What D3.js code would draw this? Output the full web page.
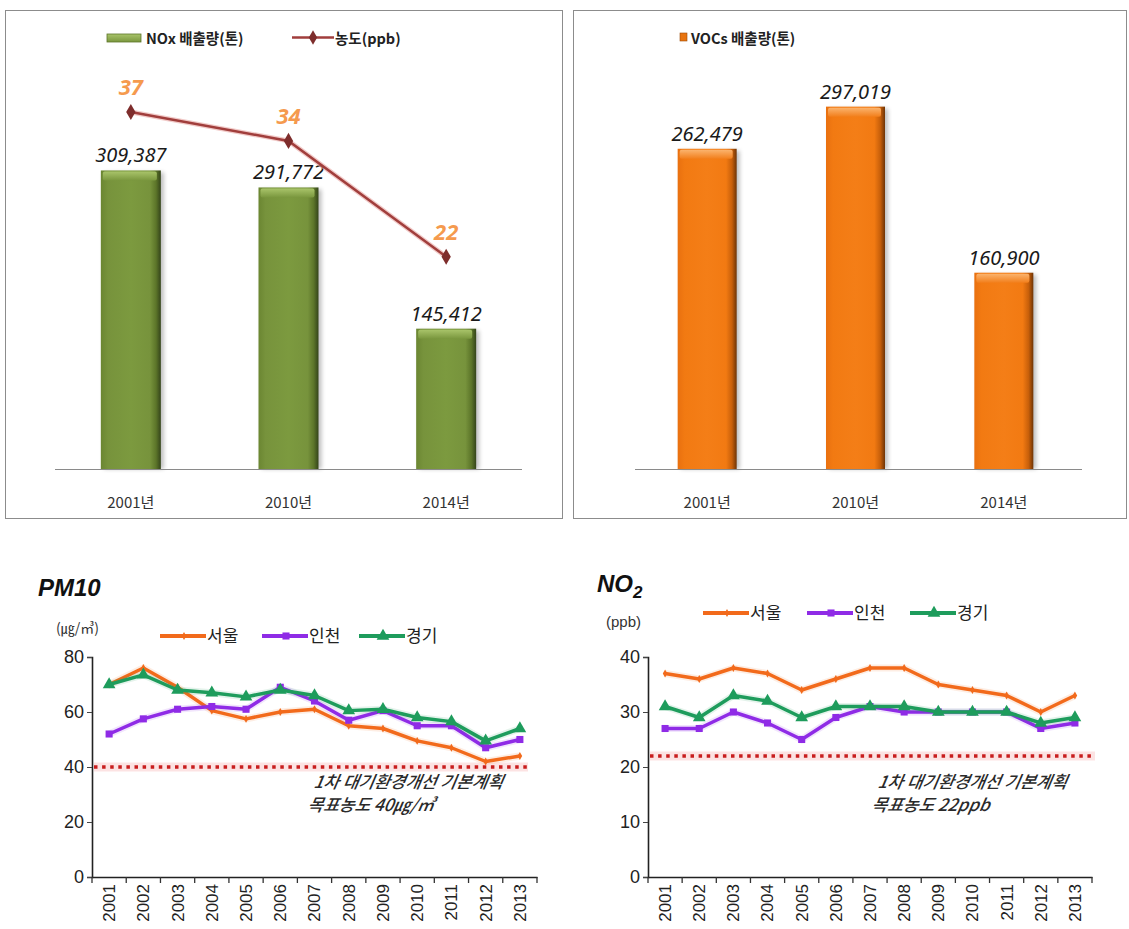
<!DOCTYPE html>
<html>
<head>
<meta charset="utf-8">
<script src="https://cdn.jsdelivr.net/npm/d3@7"></script>
<style>
  html, body { margin: 0; padding: 0; background: #ffffff; }
  svg { display: block; }
</style>
</head>
<body>
<svg id="chart" width="1129" height="929"></svg>
<script>
// ---------------- DATA ----------------
const topYears = ["2001년", "2010년", "2014년"];
const noxEmission = [309387, 291772, 145412];
const no2Concentration = [37, 34, 22];
const vocEmission = [262479, 297019, 160900];

const lineYears = ["2001","2002","2003","2004","2005","2006","2007","2008","2009","2010","2011","2012","2013"];
const regions = ["서울", "인천", "경기"];

const pm10Seoul    = [70, 76, 69, 60.5, 57.5, 60, 61, 55, 54, 49.5, 47, 42, 44];
const pm10Incheon  = [52, 57.5, 61, 62, 61, 69, 64, 57, 60.5, 55, 55, 47, 50];
const pm10Gyeonggi = [70, 73.5, 68, 67, 65.5, 68, 66, 60.5, 61, 58, 56.5, 49.5, 54];
const pm10Ticks = [0, 20, 40, 60, 80];
const pm10Target = 40;

const no2Seoul    = [37, 36, 38, 37, 34, 36, 38, 38, 35, 34, 33, 30, 33];
const no2Incheon  = [27, 27, 30, 28, 25, 29, 31, 30, 30, 30, 30, 27, 28];
const no2Gyeonggi = [31, 29, 33, 32, 29, 31, 31, 31, 30, 30, 30, 28, 29];
const no2Ticks = [0, 10, 20, 30, 40];
const no2Target = 22;

// ---------------- SETUP ----------------
const svg = d3.select("#chart");
const defs = svg.append("defs");
const KR = "'Noto Sans CJK KR', 'Noto Sans', sans-serif";
const ARIAL = "'Liberation Sans', Arial, sans-serif";
const NUM = "'Noto Sans', 'DejaVu Sans', sans-serif";

function barGradients(id, left, mid, light, edge, dark, top1, top2) {
  const g = defs.append("linearGradient").attr("id", id + "Body")
    .attr("x1", 0).attr("x2", 1).attr("y1", 0).attr("y2", 0);
  [[0, left], [0.12, mid], [0.5, light], [0.82, mid], [0.92, edge], [1, dark]]
    .forEach(([o, c]) => g.append("stop").attr("offset", o).attr("stop-color", c));
  const t = defs.append("linearGradient").attr("id", id + "Top")
    .attr("x1", 0).attr("x2", 0).attr("y1", 0).attr("y2", 1);
  [[0, top1], [1, top2]].forEach(([o, c]) => t.append("stop").attr("offset", o).attr("stop-color", c));
}
barGradients("green", "#6B8632", "#77933C", "#7C9A3F", "#5C7529", "#34441A", "#A9C46A", "#7A973E");
barGradients("orange", "#E9700F", "#F27A12", "#F47E17", "#C75F0A", "#6E3406", "#FBB46E", "#F27F1C");

const blur = defs.append("filter").attr("id", "shadow").attr("x", "-20%").attr("y", "-20%")
  .attr("width", "140%").attr("height", "140%");
blur.append("feGaussianBlur").attr("stdDeviation", 2);

// ---------------- PANEL FRAMES ----------------
svg.append("rect").attr("x", 5.5).attr("y", 10.5).attr("width", 557).attr("height", 508)
  .attr("fill", "#fff").attr("stroke", "#8c8c8c");
svg.append("rect").attr("x", 573.5).attr("y", 10.5).attr("width", 553).attr("height", 508)
  .attr("fill", "#fff").attr("stroke", "#8c8c8c");

// ---------------- BAR PANEL HELPER ----------------
function barPanel(opts) {
  const g = svg.append("g");
  const x = d3.scalePoint().domain(topYears).range(opts.xRange).padding(0.5);
  const y = d3.scaleLinear().domain([0, opts.max]).range([469, opts.top]);
  const bw = opts.barWidth;

  g.selectAll("rect.sh").data(opts.values).join("rect")
    .attr("x", (d, i) => x(topYears[i]) - bw / 2 + 3)
    .attr("y", d => y(d) + 2)
    .attr("width", bw).attr("height", d => y(0) - y(d) - 2)
    .attr("fill", "#000").attr("opacity", 0.25).attr("filter", "url(#shadow)");
  g.selectAll("rect.body").data(opts.values).join("rect")
    .attr("x", (d, i) => x(topYears[i]) - bw / 2)
    .attr("y", d => y(d))
    .attr("width", bw).attr("height", d => y(0) - y(d))
    .attr("fill", `url(#${opts.color}Body)`);
  g.selectAll("rect.cap").data(opts.values).join("rect")
    .attr("x", (d, i) => x(topYears[i]) - bw / 2 + 2)
    .attr("y", d => y(d) + 1)
    .attr("width", bw - 6).attr("height", 9)
    .attr("rx", 2)
    .attr("fill", `url(#${opts.color}Top)`);

  g.append("line").attr("x1", opts.base[0]).attr("x2", opts.base[1])
    .attr("y1", 469.5).attr("y2", 469.5).attr("stroke", "#8a8a8a").attr("stroke-width", 1.2);

  g.selectAll("text.val").data(opts.values).join("text")
    .attr("x", (d, i) => x(topYears[i]))
    .attr("y", d => y(d) - 8)
    .attr("text-anchor", "middle")
    .attr("font-family", NUM).attr("font-style", "italic").attr("font-size", 20)
    .attr("fill", "#1a1a1a")
    .text(d => d3.format(",")(d));

  g.selectAll("text.xl").data(topYears).join("text")
    .attr("x", d => x(d)).attr("y", 508)
    .attr("text-anchor", "middle")
    .attr("font-family", KR).attr("font-size", 15).attr("fill", "#333")
    .text(d => d);
  return { g, x, y };
}

// ---- NOx panel ----
const nox = barPanel({
  values: noxEmission, xRange: [52, 525], max: 400000, top: 83, barWidth: 60,
  color: "green", base: [55, 522]
});
const yConc = d3.scaleLinear().domain([0, 40]).range([469, 83]);
const concLine = d3.line().x((d, i) => nox.x(topYears[i])).y(d => yConc(d));
nox.g.append("path").datum(no2Concentration).attr("d", concLine)
  .attr("fill", "none").attr("stroke", "#E8A6A4").attr("stroke-width", 5).attr("opacity", 0.6);
nox.g.append("path").datum(no2Concentration).attr("d", concLine)
  .attr("fill", "none").attr("stroke", "#A13E3C").attr("stroke-width", 2.5);
nox.g.selectAll("path.dia").data(no2Concentration).join("path")
  .attr("d", d3.symbol().type(d3.symbolDiamond).size(75))
  .attr("transform", (d, i) => `translate(${nox.x(topYears[i])},${yConc(d)})`)
  .attr("fill", "#7E2D2C");
nox.g.selectAll("text.conc").data(no2Concentration).join("text")
  .attr("x", (d, i) => nox.x(topYears[i]))
  .attr("y", d => yConc(d) - 17)
  .attr("text-anchor", "middle")
  .attr("font-family", NUM).attr("font-style", "italic").attr("font-weight", "bold")
  .attr("font-size", 22).attr("fill", "#F59A4E")
  .text(d => d);

// NOx legend
svg.append("rect").attr("x", 107).attr("y", 34).attr("width", 34).attr("height", 8)
  .attr("fill", "url(#greenTop)").attr("stroke", "#5C7529").attr("stroke-width", 0.8);
svg.append("text").attr("x", 146).attr("y", 43.5)
  .attr("font-family", KR).attr("font-weight", "bold").attr("font-size", 14.5).attr("fill", "#222")
  .text("NOx 배출량(톤)");
svg.append("line").attr("x1", 292).attr("x2", 334).attr("y1", 37.5).attr("y2", 37.5)
  .attr("stroke", "#A13E3C").attr("stroke-width", 2.5);
svg.append("path").attr("d", d3.symbol().type(d3.symbolDiamond).size(60))
  .attr("transform", "translate(313,37.5)").attr("fill", "#7E2D2C");
svg.append("text").attr("x", 335).attr("y", 43.5)
  .attr("font-family", KR).attr("font-weight", "bold").attr("font-size", 14.5).attr("fill", "#222")
  .text("농도(ppb)");

// ---- VOCs panel ----
barPanel({
  values: vocEmission, xRange: [633, 1078], max: 350000, top: 42, barWidth: 59,
  color: "orange", base: [635, 1082]
});
svg.append("rect").attr("x", 680).attr("y", 33).attr("width", 7).attr("height", 8)
  .attr("fill", "#E8740F").attr("stroke", "#9A4A08").attr("stroke-width", 0.6);
svg.append("text").attr("x", 691).attr("y", 43.5)
  .attr("font-family", KR).attr("font-weight", "bold").attr("font-size", 14.5).attr("fill", "#222")
  .text("VOCs 배출량(톤)");

// ---------------- LINE CHARTS ----------------
const seriesColors = ["#F26A1B", "#8F2BE6", "#1E9C5C"];
const seriesSymbols = [d3.symbolDiamond, d3.symbolSquare, d3.symbolTriangle];
const seriesSizes = [18, 50, 70];

function lineChart(opts) {
  const g = svg.append("g");
  const x = d3.scaleBand().domain(lineYears).range(opts.xRange);
  const y = d3.scaleLinear().domain([0, opts.max]).range([877, 657]);

  g.append("line").attr("x1", opts.xRange[0] + 2).attr("x2", opts.targetEnd)
    .attr("y1", y(opts.target)).attr("y2", y(opts.target))
    .attr("stroke", "#FBC8C8").attr("stroke-width", 9).attr("opacity", 0.5);
  g.append("line").attr("x1", opts.xRange[0] + 2).attr("x2", opts.targetEnd)
    .attr("y1", y(opts.target)).attr("y2", y(opts.target))
    .attr("stroke", "#C81E1E").attr("stroke-width", 3.5).attr("stroke-dasharray", "3.5,4.6");

  const yAxis = d3.axisLeft(y).tickValues(opts.ticks).tickSize(5).tickPadding(3);
  const ya = g.append("g").attr("transform", `translate(${opts.xRange[0]},0)`).call(yAxis);
  ya.select(".domain").attr("stroke", "#222").attr("stroke-width", 1.6);
  ya.selectAll(".tick line").attr("stroke", "#444");
  ya.selectAll("text").attr("font-family", ARIAL).attr("font-size", 18).attr("fill", "#222");

  const xAxis = d3.axisBottom(x).tickSize(0).tickPadding(0);
  const xa = g.append("g").attr("transform", "translate(0,877)").call(xAxis);
  xa.select(".domain").attr("stroke", "#222").attr("stroke-width", 1.6);
  xa.selectAll(".tick text")
    .attr("font-family", ARIAL).attr("font-size", 17).attr("fill", "#222")
    .attr("text-anchor", "end")
    .attr("transform", "rotate(-90)")
    .attr("x", -7).attr("y", 0).attr("dy", "0.35em");
  const bounds = lineYears.map(d => x(d)).concat([opts.xRange[1]]);
  g.selectAll("line.bt").data(bounds).join("line")
    .attr("x1", d => d).attr("x2", d => d)
    .attr("y1", 877).attr("y2", 883)
    .attr("stroke", "#333").attr("stroke-width", 1.3);

  opts.series.forEach((vals, si) => {
    const line = d3.line().x((d, i) => x(lineYears[i]) + x.bandwidth() / 2).y(d => y(d));
    g.append("path").datum(vals).attr("d", line)
      .attr("fill", "none").attr("stroke", seriesColors[si]).attr("stroke-width", 7).attr("opacity", 0.12);
    g.append("path").datum(vals).attr("d", line)
      .attr("fill", "none").attr("stroke", seriesColors[si]).attr("stroke-width", 3.5)
      .attr("stroke-linejoin", "round");
    g.selectAll(null).data(vals).join("path")
      .attr("d", d3.symbol().type(seriesSymbols[si]).size(seriesSizes[si]))
      .attr("transform", (d, i) => `translate(${x(lineYears[i]) + x.bandwidth() / 2},${y(d)})`)
      .attr("fill", seriesColors[si]);
  });

  const ann = g.append("text").attr("font-family", KR).attr("font-style", "italic")
    .attr("font-size", 17).attr("fill", "#2a2a2a").attr("font-weight", "500")
    .attr("transform", `translate(${opts.annX},0) skewX(-10)`);
  ann.append("tspan").attr("x", opts.annSkew).attr("y", 788).text("1차 대기환경개선 기본계획");
  ann.append("tspan").attr("x", opts.annSkew - 2).attr("y", 811).text(opts.annLine2);

  regions.forEach((r, i) => {
    const lx = opts.legendX[i];
    g.append("line").attr("x1", lx).attr("x2", lx + 46)
      .attr("y1", opts.legendY).attr("y2", opts.legendY)
      .attr("stroke", seriesColors[i]).attr("stroke-width", 4);
    g.append("path").attr("d", d3.symbol().type(seriesSymbols[i]).size(seriesSizes[i]))
      .attr("transform", `translate(${lx + 24},${opts.legendY})`).attr("fill", seriesColors[i]);
    g.append("text").attr("x", lx + 47).attr("y", opts.legendY + 6)
      .attr("font-family", KR).attr("font-size", 17).attr("fill", "#222").text(r);
  });
  return g;
}

lineChart({
  xRange: [92, 537], max: 80, ticks: pm10Ticks, target: pm10Target, targetEnd: 528,
  series: [pm10Seoul, pm10Incheon, pm10Gyeonggi],
  annX: 312, annSkew: 140, annLine2: "목표농도 40㎍/㎥",
  legendX: [160, 262, 359], legendY: 636
});
lineChart({
  xRange: [648, 1092], max: 40, ticks: no2Ticks, target: no2Target, targetEnd: 1095,
  series: [no2Seoul, no2Incheon, no2Gyeonggi],
  annX: 876, annSkew: 140, annLine2: "목표농도 22ppb",
  legendX: [703, 807, 910], legendY: 613
});

svg.append("text").attr("x", 38).attr("y", 596)
  .attr("font-family", ARIAL).attr("font-weight", "bold").attr("font-style", "italic")
  .attr("font-size", 24).attr("fill", "#111").text("PM10");
const no2t = svg.append("text").attr("x", 597).attr("y", 592)
  .attr("font-family", ARIAL).attr("font-weight", "bold").attr("font-style", "italic")
  .attr("font-size", 24).attr("fill", "#111");
no2t.append("tspan").text("NO");
no2t.append("tspan").attr("font-size", 17).attr("dy", 6).text("2");

svg.append("text").attr("x", 56).attr("y", 633)
  .attr("font-family", KR).attr("font-size", 14).attr("fill", "#333").text("(㎍/㎥)");
svg.append("text").attr("x", 606).attr("y", 627)
  .attr("font-family", ARIAL).attr("font-size", 15).attr("fill", "#333").text("(ppb)");
</script>
</body>
</html>
